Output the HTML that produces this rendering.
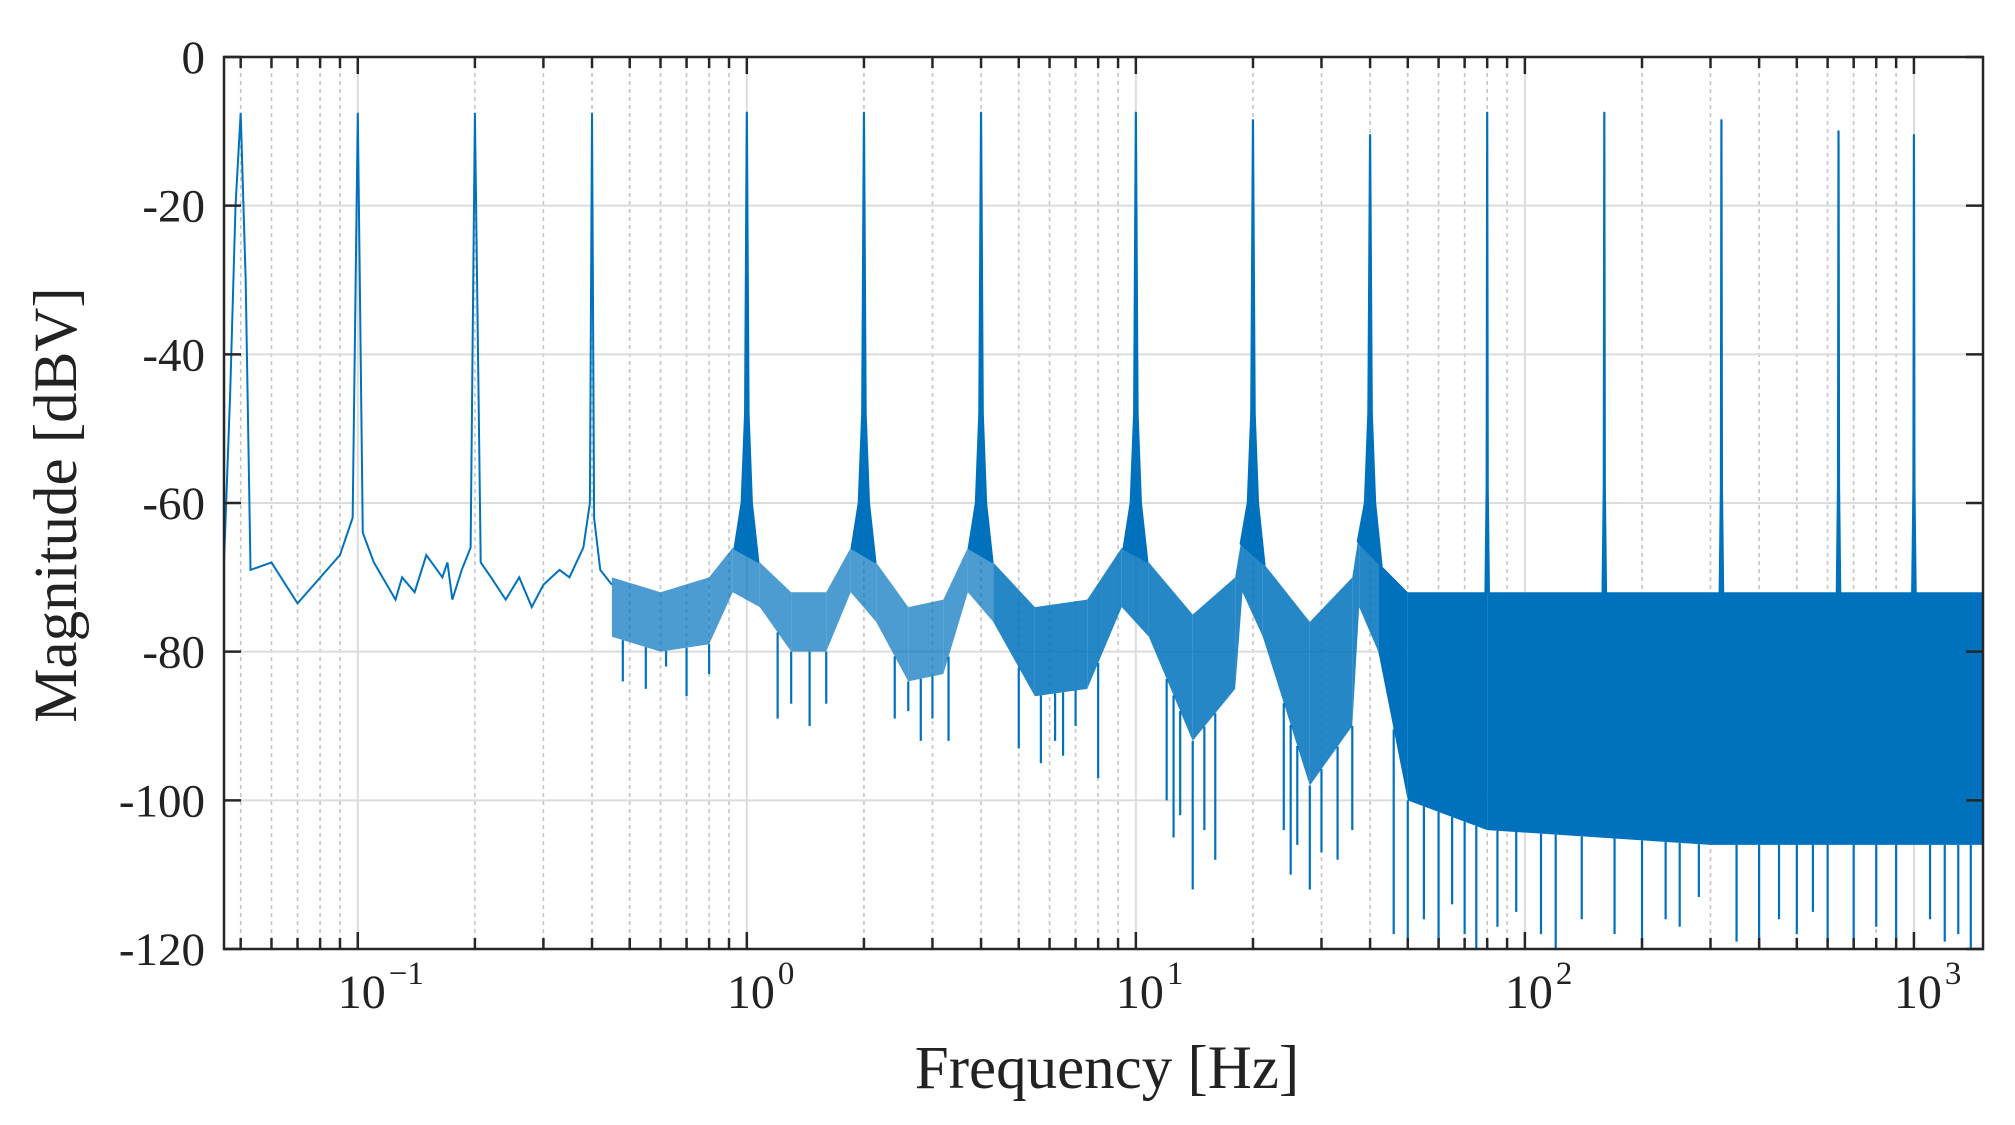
<!DOCTYPE html>
<html><head><meta charset="utf-8"><style>
html,body{margin:0;padding:0;background:#fff;}
svg{display:block;font-family:"Liberation Serif",serif;}
</style></head><body>
<svg id="chart" width="2015" height="1125" viewBox="0 0 2015 1125">
<g id="grid"></g>
<g id="series"></g>
<g id="axes"></g>
<text x="1107" y="1088" font-size="61" text-anchor="middle" fill="#222">Frequency [Hz]</text>
<text transform="translate(76,505) rotate(-90)" font-size="61" text-anchor="middle" fill="#222">Magnitude [dBV]</text>
</svg>
<script>
// ---- data ----
const lowFreq = [0.0453,0.047,0.0485,0.05,0.0515,0.053,0.06,0.07,0.09,0.097,0.1,0.103,0.11,0.125,0.13,0.14,0.15,0.165,0.17,0.175,0.185,0.195,0.2,0.207,0.22,0.24,0.26,0.28,0.3,0.33,0.35,0.38,0.395,0.4,0.405,0.42,0.45];
const lowDb   = [-68,-45,-20,-7.5,-30,-69,-68,-73.5,-67,-62,-7.5,-64,-68,-73,-70,-72,-67,-70,-68,-73,-69,-66,-7.5,-68,-70,-73,-70,-74,-71,-69,-70,-66,-60,-7.5,-62,-69,-71];
const envFreq = [0.45,0.6,0.8,0.92,1.08,1.3,1.6,1.85,2.15,2.6,3.2,3.7,4.3,5.5,7.5,9.2,10.8,14,18,18.8,21.2,28,36,37.5,42,50,80,300,1505];
const envTop  = [-70,-72,-70,-66,-68,-72,-72,-66,-68,-74,-73,-66,-68,-74,-73,-66,-68,-75,-70,-64,-68,-76,-70,-64,-68,-72,-72,-72,-72];
const envBot  = [-78,-80,-79,-72,-74,-80,-80,-72,-76,-84,-83,-72,-76,-86,-85,-74,-78,-92,-85,-72,-78,-98,-90,-74,-80,-100,-104,-106,-106];
const dipFreq = [0.48,0.55,0.62,0.7,0.8,1.2,1.3,1.45,1.6,2.4,2.6,2.8,3.0,3.3,5.0,5.7,6.2,6.5,7,8,12,12.5,13,14,15,16,24,25,26,28,30,33,36,46,50,55,60,65,70,75,85,95,110,120,140,170,200,230,250,280,350,400,450,500,550,600,700,800,900,1100,1200,1300,1400];
const dipDb   = [-84,-85,-82,-86,-83,-89,-87,-90,-87,-89,-88,-92,-89,-92,-93,-95,-92,-94,-90,-97,-100,-105,-102,-112,-104,-108,-104,-110,-106,-112,-107,-108,-104,-118,-120,-116,-119,-114,-118,-120,-117,-115,-118,-120,-116,-118,-120,-116,-117,-113,-119,-120,-116,-118,-115,-119,-120,-117,-120,-116,-119,-118,-120];
const peakFreq = [1,2,4,10,20,40,80,160,320,640,1000];
const peakDb   = [-7.5,-7.5,-7.5,-7.5,-8.5,-10.5,-7.5,-7.5,-8.5,-10,-10.5];
const yTicks = [0,-20,-40,-60,-80,-100,-120];
const yTickLabels = ["0","-20","-40","-60","-80","-100","-120"];
const xDecades = [-1,0,1,2,3];
const xTickLabels = ["10","10","10","10","10"];
const xTickExps = ["\u22121","0","1","2","3"];

// ---- axes ----
const L=224,R=1983,T=57,B=949;
const lxMin=Math.log10(0.0453), lxMax=Math.log10(1505);
const X=f=>L+(Math.log10(f)-lxMin)/(lxMax-lxMin)*(R-L);
const Y=d=>T+(0-d)/120*(B-T);
const NS="http://www.w3.org/2000/svg";
function mk(tag,attrs,parent){const e=document.createElementNS(NS,tag);for(const k in attrs)e.setAttribute(k,attrs[k]);parent.appendChild(e);return e;}
const grid=document.getElementById('grid'),ser=document.getElementById('series'),axes=document.getElementById('axes');

for(let d=-2;d<=3;d++){for(let m=1;m<=9;m++){const f=m*Math.pow(10,d);if(f<0.0453||f>1505)continue;const x=X(f);
 const g=mk('line',{x1:x,x2:x,y1:T,y2:B,stroke:m===1?'#dcdcdc':'#c4c4c4','stroke-width':m===1?2:1.6,'stroke-dasharray':m===1?'':'4 4'},grid);
 
 
 const t1=mk('line',{x1:x,x2:x,y1:B,y2:B-(m===1?17:11),stroke:'#262626','stroke-width':2.5},axes);
 
 
 const t2=mk('line',{x1:x,x2:x,y1:T,y2:T+(m===1?17:11),stroke:'#262626','stroke-width':2.5},axes);
 
 
}}
yTicks.forEach((v,i)=>{const y=Y(v);
 if(v!==0&&v!==-120){const g=mk('line',{x1:L,x2:R,y1:y,y2:y,stroke:'#dcdcdc','stroke-width':2},grid);
 
 }
 const t=mk('line',{x1:L,x2:L+17,y1:y,y2:y,stroke:'#262626','stroke-width':2.5},axes);
 
 
 const t2=mk('line',{x1:R,x2:R-17,y1:y,y2:y,stroke:'#262626','stroke-width':2.5},axes);
 
 
 const lb=mk('text',{x:L-19,y:y+16,'font-size':47,'text-anchor':'end',fill:'#222'},axes);
 lb.textContent=yTickLabels[i];
 
 
});
xDecades.forEach((d,i)=>{const x=X(Math.pow(10,d));
 const lb=mk('text',{x:x+4,y:1008,'font-size':48,'text-anchor':'middle',fill:'#222'},axes);
 lb.textContent=xTickLabels[i];
 
 
 const ex=mk('text',{x:x+31,y:984,'font-size':33,'text-anchor':'start',fill:'#222'},axes);
 ex.textContent=xTickExps[i];
 
 
});
const frame=mk('rect',{x:L,y:T,width:R-L,height:B-T,fill:'none',stroke:'#262626','stroke-width':2.5},axes);



const C='#0072bd';
const clipDef=mk('clipPath',{id:'pc'},mk('defs',{},ser));
mk('rect',{x:L,y:T,width:R-L,height:B-T},clipDef);
ser.setAttribute('clip-path','url(#pc)');
const low=mk('polyline',{points:lowFreq.map((f,i)=>X(f)+','+Y(lowDb[i])).join(' '),fill:'none',stroke:C,'stroke-width':2},ser);


for(let i=0;i<envFreq.length-1;i++){
 const f0=envFreq[i],f1=envFreq[i+1];
 const op=f0<4?0.7:(f0<40?0.85:1);
 const p=mk('polygon',{points:[X(f0)+','+Y(envTop[i]),X(f1)+','+Y(envTop[i+1]),X(f1)+','+Y(envBot[i+1]),X(f0)+','+Y(envBot[i])].join(' '),fill:C,'fill-opacity':op},ser);
 
 
}
function envAt(arr,f){for(let i=0;i<envFreq.length-1;i++){if(f>=envFreq[i]&&f<=envFreq[i+1]){const t=(Math.log10(f)-Math.log10(envFreq[i]))/(Math.log10(envFreq[i+1])-Math.log10(envFreq[i]));return arr[i]+t*(arr[i+1]-arr[i]);}}return arr[arr.length-1];}
dipFreq.forEach((f,i)=>{const x=X(f);
 const l=mk('line',{x1:x,x2:x,y1:Y(envAt(envBot,f)),y2:Y(dipDb[i]),stroke:C,'stroke-width':2.2},ser);
 
 
});
peakFreq.forEach((f,i)=>{
 let pts;
 if(f<=40){const a=envAt(envTop,f*0.93),b=envAt(envTop,f*1.07);
  pts=[[f*0.93,a],[f*0.97,-60],[f*0.99,-48],[f,peakDb[i]],[f*1.01,-48],[f*1.03,-60],[f*1.07,b]];}
 else {pts=[[f*0.99,-72],[f*0.997,-58],[f,peakDb[i]],[f*1.003,-58],[f*1.01,-72]];}
 const p=mk('polygon',{points:pts.map(q=>X(q[0])+','+Y(q[1])).join(' '),fill:C,stroke:C,'stroke-width':2.2,'stroke-linejoin':'round'},ser);
 
 
});
</script>
</body></html>
